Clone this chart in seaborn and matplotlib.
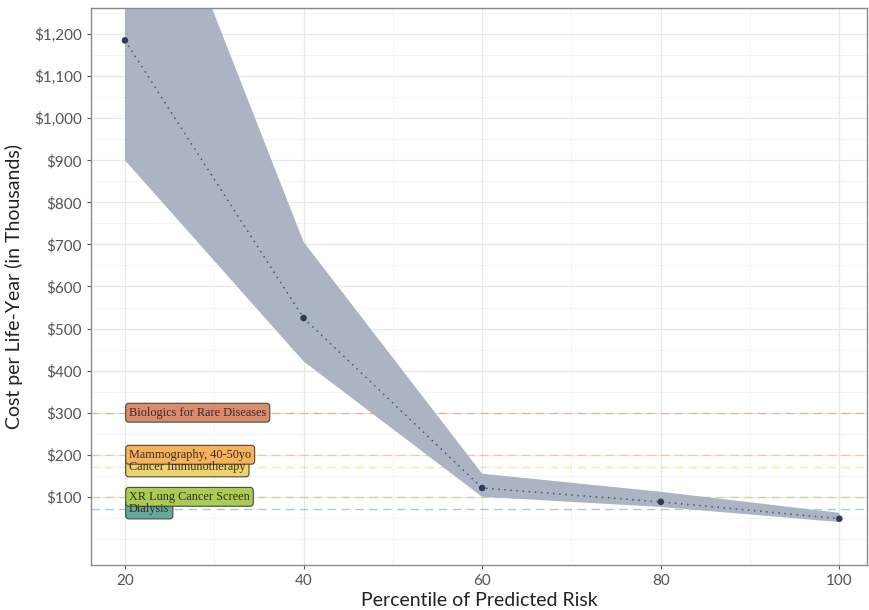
import matplotlib
matplotlib.use("Agg")
import matplotlib.pyplot as plt
import seaborn as sns
import numpy as np
import pandas as pd
from matplotlib.ticker import FuncFormatter

# ---- data ----
percentiles = [20, 40, 60, 80, 100]
cost = [1185, 525, 121, 88, 48]
cost_lower = [900, 422, 100, 76, 40]
cost_upper = [1790, 706, 155, 112, 62]

bench_names = ["Biologics for Rare Diseases", "Mammography, 40-50yo",
               "Cancer Immunotherapy", "XR Lung Cancer Screen", "Dialysis"]
bench_values = [300, 200, 170, 100, 70]
bench_colors = ["#D98B70", "#F6B35C", "#EDD36C", "#A9CC55", "#62A99A"]

y_ticks = [100, 200, 300, 400, 500, 600, 700, 800, 900, 1000, 1100, 1200]
x_ticks = [20, 40, 60, 80, 100]

df = pd.DataFrame({"pct": percentiles, "cost": cost,
                   "lo": cost_lower, "hi": cost_upper})

sns.set_theme(style="white")
plt.rcParams['font.family'] = ['Lato', 'DejaVu Sans']

fig = plt.figure(figsize=(8.7, 6.1), dpi=100)
ax = fig.add_axes([0.1046, 0.0738, 0.892, 0.9131])

# grid
for v in np.arange(0, 1300, 50):
    major = v in y_ticks
    ax.axhline(v, color="#E8E8E8" if major else "#F2F2F2", lw=0.9 if major else 0.6, zorder=0)
for v in [20, 30, 40, 50, 60, 70, 80, 90, 100]:
    major = v in x_ticks
    ax.axvline(v, color="#E8E8E8" if major else "#F2F2F2", lw=0.9 if major else 0.6, zorder=0)

# benchmark lines
for v, c in zip(bench_values, bench_colors):
    ax.axhline(v, color=c, lw=1.0, ls=(0, (6, 4)), alpha=0.55, zorder=1)

# ribbon
ax.fill_between(df["pct"], df["lo"], df["hi"], color="#A9B2C2", alpha=0.97, lw=0, zorder=2)

sns.lineplot(data=df, x="pct", y="cost", ax=ax, color="#4A5570", lw=1.1,
             linestyle=(0, (1, 3)), zorder=3)
sns.scatterplot(data=df, x="pct", y="cost", ax=ax, color="#2F3A55", s=22,
                edgecolor="none", zorder=4)

# benchmark labels: boxes (earlier ones on top), then texts above all boxes
for i, (name, v, c) in enumerate(zip(bench_names, bench_values, bench_colors)):
    ax.annotate(name, xy=(20, v), xytext=(3.0, 0), textcoords="offset points",
                ha="left", va="center", fontsize=8.8, family=["Liberation Serif"],
                color=(0, 0, 0, 0), zorder=20 - i,
                bbox=dict(boxstyle="round,pad=0.28,rounding_size=0.25",
                          fc=c, ec="#4A4A3A", lw=0.8))
for i, (name, v) in enumerate(zip(bench_names, bench_values)):
    ax.annotate(name, xy=(20, v), xytext=(3.0, 0), textcoords="offset points",
                ha="left", va="center", fontsize=8.8, family=["Liberation Serif"],
                color="#3A2A20", zorder=30)

ax.set_xlim(16.2, 103.1)
ax.set_ylim(-62, 1262)
ax.set_xticks(x_ticks)
ax.set_yticks(y_ticks)
ax.yaxis.set_major_formatter(FuncFormatter(lambda v, p: f"${int(v):,}"))
ax.tick_params(axis="both", labelsize=11, labelcolor="#555555", color="#555555",
               length=3, width=0.8, direction="out", bottom=True, left=True)
ax.set_xlabel("Percentile of Predicted Risk", fontsize=14, color="#222222", labelpad=3)
ax.set_ylabel("Cost per Life-Year (in Thousands)", fontsize=14, color="#222222", labelpad=8)

for s in ax.spines.values():
    s.set_color("#8A8A8A")
    s.set_linewidth(1.0)
ax.set_facecolor("white")
if ax.get_legend():
    ax.get_legend().remove()

fig.savefig("out.png", dpi=100)
